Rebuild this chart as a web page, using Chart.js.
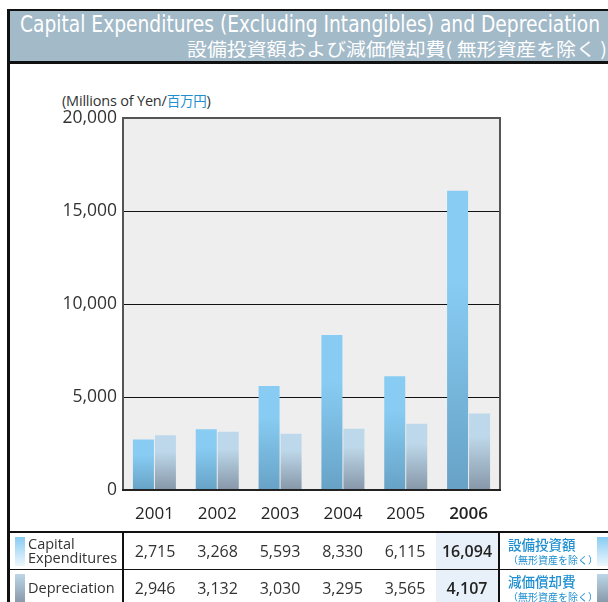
<!DOCTYPE html>
<html>
<head>
<meta charset="utf-8">
<script src="https://cdn.jsdelivr.net/npm/chart.js@4.4.1/dist/chart.umd.min.js"></script>
<style>
  html, body { margin: 0; padding: 0; background: #fff; }
  body { width: 608px; height: 602px; position: relative; overflow: hidden; font-family: "Open Sans", "Noto Sans", sans-serif; color: #333; }
  #frame { position: absolute; left: 7px; top: 9px; width: 640px; height: 640px; border-left: 3px solid #111; border-top: 2px solid #111; box-sizing: border-box; }
  #head { position: absolute; left: 10px; top: 11px; width: 620px; height: 50px; background: #a3bac9; border-bottom: 3px solid #111; }
  #t1 { position: absolute; left: 10px; top: 0px; font-family: "DejaVu Sans Condensed", "Liberation Sans Narrow", sans-serif; font-size: 23px; color: #fff; white-space: nowrap; transform-origin: 0 0; }
  #t2 { position: absolute; left: 177px; top: 27px; font-family: "Noto Sans CJK JP", sans-serif; font-size: 18px; color: #fff; white-space: nowrap; line-height: 20px; transform-origin: 0 0; }
  #unit { position: absolute; left: 62px; top: 90px; font-size: 14.5px; color: #333; white-space: nowrap; letter-spacing: -0.2px; }
  #unit span { font-family: "Noto Sans CJK JP", sans-serif; color: #1f8fd0; font-size: 13.5px; }
  #wrap { position: absolute; left: 0; top: 64px; width: 608px; height: 468px; }
  #tbl { position: absolute; left: 10px; top: 531px; width: 640px; border-collapse: collapse; table-layout: fixed; }
  #tbl td { padding: 0; height: 36px; text-align: center; font-size: 16px; color: #333; white-space: nowrap; }
  #tbl tr:first-child td { border-top: 2px solid #111; }
  #tbl tr + tr td { border-top: 1px solid #111; }
  #tbl td.lab { text-align: left; font-size: 14.5px; line-height: 14px; border-right: 2px solid #111; position: relative; padding-left: 18px; }
  #tbl td.hl { background: #e8f1f9; font-weight: 600; color: #222; }
  #tbl td.jp { text-align: left; border-left: 2px solid #111; padding-left: 8px; font-family: "Noto Sans CJK JP", sans-serif; color: #1f8fd0; line-height: 15px; position: relative; }
  #tbl td.jp b { font-weight: 500; font-size: 13.5px; }
  #tbl td.jp small { font-size: 10px; display: block; }
  .sw { position: absolute; left: 5px; top: 4px; width: 10px; height: 29px; }
  .sw2 { position: absolute; left: 97px; top: 4px; width: 12px; height: 29px; }
</style>
</head>
<body>
<div id="frame"></div>
<div id="head">
  <div id="t1">Capital Expenditures (Excluding Intangibles) and Depreciation</div>
  <div id="t2">設備投資額および減価償却費( 無形資産を除く )</div>
</div>
<div id="unit">(Millions of Yen/<span>百万円</span>)</div>
<div id="wrap"><canvas id="chart" width="608" height="468"></canvas></div>
<table id="tbl">
  <colgroup>
    <col style="width:113px"><col style="width:63px"><col style="width:63px"><col style="width:62px"><col style="width:63px"><col style="width:62px"><col style="width:63px"><col style="width:151px">
  </colgroup>
  <tbody id="rows"></tbody>
</table>
<script>
// data
const years = ['2001', '2002', '2003', '2004', '2005', '2006'];
const capex = [2715, 3268, 5593, 8330, 6115, 16094];
const depreciation = [2946, 3132, 3030, 3295, 3565, 4107];
const yTicks = [0, 5000, 10000, 15000, 20000];

// fit the header lines to their widths in the picture
function fitWidth(el, target) {
  const w = el.getBoundingClientRect().width;
  el.style.transform = 'scaleX(' + (target / w) + ')';
}
fitWidth(document.getElementById('t1'), 580);
fitWidth(document.getElementById('t2'), 420);

const fmt = v => v.toLocaleString('en-US');

// table below the chart
const rowsEl = document.getElementById('rows');
const rowDefs = [
  { en: 'Capital<br>Expenditures', jp: '設備投資額', vals: capex, sw: 'linear-gradient(#88ccf2, #eef7fd)' },
  { en: 'Depreciation', jp: '減価償却費', vals: depreciation, sw: 'linear-gradient(#bcd6e8, #8898a8)' }
];
rowDefs.forEach(r => {
  const tr = document.createElement('tr');
  let html = '<td class="lab"><div class="sw" style="background:' + r.sw + '"></div>' + r.en + '</td>';
  r.vals.forEach((v, i) => {
    html += '<td' + (i === r.vals.length - 1 ? ' class="hl"' : '') + '>' + fmt(v) + '</td>';
  });
  html += '<td class="jp"><b>' + r.jp + '</b><small>（無形資産を除く）</small><div class="sw2" style="background:' + r.sw + '"></div></td>';
  tr.innerHTML = html;
  rowsEl.appendChild(tr);
});

// per-bar vertical gradient
function barGradient(top, bottom) {
  return function (ctx) {
    const chart = ctx.chart;
    if (!chart.chartArea || ctx.raw == null) return top;
    const y = chart.scales.y;
    const y0 = y.getPixelForValue(ctx.raw);
    const y1 = y.getPixelForValue(0);
    const g = chart.ctx.createLinearGradient(0, y0, 0, y1);
    g.addColorStop(0, top);
    g.addColorStop(0.3, top);
    g.addColorStop(1, bottom);
    return g;
  };
}

// plot background and frame
const plotFrame = {
  id: 'plotFrame',
  beforeDraw(chart) {
    const { ctx, chartArea: a } = chart;
    ctx.save();
    ctx.fillStyle = '#eeeeee';
    ctx.fillRect(a.left, a.top, a.right - a.left, a.bottom - a.top);
    ctx.restore();
  },
  afterDatasetsDraw(chart) {
    const { ctx, chartArea: a } = chart;
    ctx.save();
    ctx.strokeStyle = '#555';
    ctx.lineWidth = 2;
    ctx.strokeRect(a.left, a.top, a.right - a.left, a.bottom - a.top);
    ctx.beginPath();
    ctx.strokeStyle = '#222';
    ctx.moveTo(a.left - 1, a.bottom);
    ctx.lineTo(a.right + 1, a.bottom);
    ctx.stroke();
    ctx.restore();
  }
};

new Chart(document.getElementById('chart'), {
  type: 'bar',
  data: {
    labels: years,
    datasets: [
      { label: 'Capital Expenditures', data: capex, backgroundColor: barGradient('#88ccf3', '#67a2c6'), borderWidth: 0 },
      { label: 'Depreciation', data: depreciation, backgroundColor: barGradient('#bdd8ea', '#8697a8'), borderWidth: 0 }
    ]
  },
  options: {
    responsive: false,
    animation: false,
    devicePixelRatio: 1,
    layout: { padding: { left: 0, right: 108, top: 54, bottom: 0 } },
    datasets: { bar: { categoryPercentage: 0.7, barPercentage: 0.955 } },
    plugins: { legend: { display: false }, tooltip: { enabled: false } },
    scales: {
      x: {
        grid: { display: false, drawTicks: false },
        border: { display: false },
        afterFit: s => { s.height = 42; },
        ticks: {
          padding: 14,
          color: '#222',
          font: ctx => ({ family: 'Open Sans', size: 17, weight: ctx.index === years.length - 1 ? '600' : '400' })
        }
      },
      y: {
        min: yTicks[0],
        max: yTicks[yTicks.length - 1],
        afterFit: s => { s.width = 123; },
        afterBuildTicks: s => { s.ticks = yTicks.map(v => ({ value: v })); },
        border: { display: false },
        grid: {
          drawTicks: false,
          color: ctx => (ctx.tick && (ctx.tick.value === 0 || ctx.tick.value === 20000)) ? 'rgba(0,0,0,0)' : '#111',
          lineWidth: 1
        },
        ticks: {
          padding: 6,
          color: '#333',
          font: { family: 'Open Sans', size: 17.5 },
          callback: v => fmt(v)
        }
      }
    }
  },
  plugins: [plotFrame]
});
</script>
</body>
</html>
